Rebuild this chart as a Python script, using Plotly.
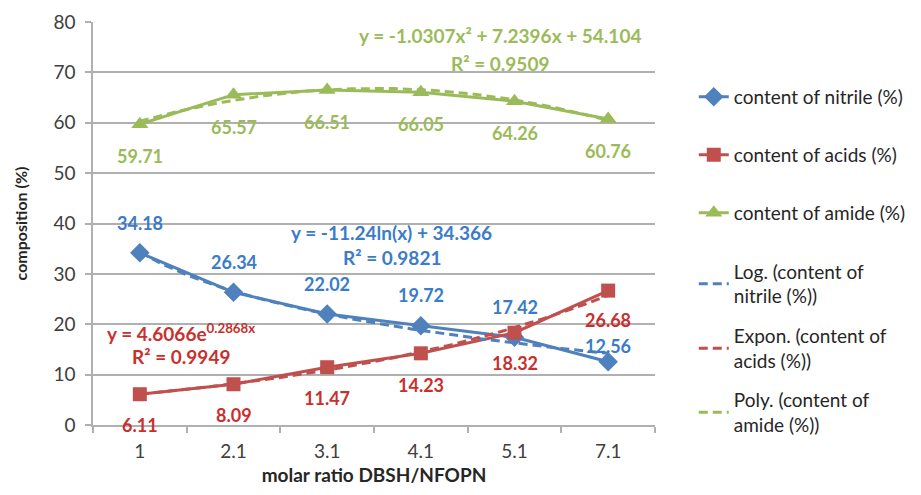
import numpy as np
import plotly.graph_objects as go

# ---- data ----
categories = ["1", "2.1", "3.1", "4.1", "5.1", "7.1"]
nitrile = [34.18, 26.34, 22.02, 19.72, 17.42, 12.56]
acids = [6.11, 8.09, 11.47, 14.23, 18.32, 26.68]
amide = [59.71, 65.57, 66.51, 66.05, 64.26, 60.76]

eq_nitrile = ["y = -11.24ln(x) + 34.366", "R² = 0.9821"]
eq_acids = ["y = 4.6066e<sup>0.2868x</sup>", "R² = 0.9949"]
eq_amide = ["y = -1.0307x² + 7.2396x + 54.104", "R² = 0.9509"]

# ---- styles ----
FONT = "Lato, Carlito, Calibri, sans-serif"
C_BLUE, C_RED, C_GREEN = "#4F81BD", "#C0504D", "#9BBB59"
T_BLUE, T_RED, T_GREEN = "#3A7CC8", "#C8302E", "#9BBB59"
GRID = "#B0B0B0"

idx = np.arange(1, len(categories) + 1)
xs = np.linspace(1, len(categories), 101)

# trendlines fitted from the data (Excel uses category index 1..n)
b_log, a_log = np.polyfit(np.log(idx), nitrile, 1)
log_fit = b_log * np.log(xs) + a_log
k_exp, lnA = np.polyfit(idx, np.log(acids), 1)
exp_fit = np.exp(lnA) * np.exp(k_exp * xs)
p2 = np.polyfit(idx, amide, 2)
poly_fit = np.polyval(p2, xs)

fig = go.Figure()
lw = 3
fig.add_trace(go.Scatter(x=idx, y=nitrile, mode="lines+markers", name="content of nitrile (%)",
                         line=dict(color=C_BLUE, width=lw),
                         marker=dict(symbol="diamond", size=15, color=C_BLUE), legend="legend"))
fig.add_trace(go.Scatter(x=idx, y=acids, mode="lines+markers", name="content of acids (%)",
                         line=dict(color=C_RED, width=lw),
                         marker=dict(symbol="square", size=14, color=C_RED), legend="legend2"))
fig.add_trace(go.Scatter(x=idx, y=amide, mode="lines+markers", name="content of amide (%)",
                         line=dict(color=C_GREEN, width=lw),
                         marker=dict(symbol="triangle-up", size=15, color=C_GREEN), legend="legend3"))
dash = "9px,5px"
fig.add_trace(go.Scatter(x=xs, y=log_fit, mode="lines", name="Log. (content of<br>nitrile (%))",
                         line=dict(color=C_BLUE, width=lw, dash=dash), legend="legend4"))
fig.add_trace(go.Scatter(x=xs, y=exp_fit, mode="lines", name="Expon. (content of<br>acids (%))",
                         line=dict(color=C_RED, width=lw, dash=dash), legend="legend5"))
fig.add_trace(go.Scatter(x=xs, y=poly_fit, mode="lines", name="Poly. (content of<br>amide (%))",
                         line=dict(color=C_GREEN, width=lw, dash=dash), legend="legend6"))

annotations = []
lab_font = dict(family=FONT, size=18)
n_shift = [30, 30, 30, 31, 30, 16]
a_shift = [-31, -31, -31, -32, -30, -29]
for i, v in enumerate(nitrile):
    annotations.append(dict(x=idx[i], y=v, text=f"<b>{v:.2f}</b>", showarrow=False,
                            yshift=n_shift[i], font=dict(lab_font, color=T_BLUE)))
for i, v in enumerate(acids):
    annotations.append(dict(x=idx[i], y=v, text=f"<b>{v:.2f}</b>", showarrow=False,
                            yshift=a_shift[i], font=dict(lab_font, color=T_RED)))
for i, v in enumerate(amide):
    annotations.append(dict(x=idx[i], y=v, text=f"<b>{v:.2f}</b>", showarrow=False,
                            yshift=-32, font=dict(lab_font, color=T_GREEN)))

eq_font = dict(family=FONT, size=19)
for (x, y), t, c in [((4.85, 77.4), eq_amide[0], T_GREEN), ((4.85, 71.8), eq_amide[1], T_GREEN),
                     ((3.69, 38.3), eq_nitrile[0], T_BLUE), ((3.69, 33.3), eq_nitrile[1], T_BLUE),
                     ((1.44, 18.45), eq_acids[0], T_RED), ((1.44, 13.5), eq_acids[1], T_RED)]:
    annotations.append(dict(x=x, y=y, text=f"<b>{t}</b>", showarrow=False,
                            font=dict(eq_font, color=c)))

leg_common = dict(x=1.069, xanchor="left", yanchor="middle", bgcolor="rgba(0,0,0,0)",
                  font=dict(family=FONT, size=19, color="#262626"), itemwidth=30)
legend_y = [0.814, 0.670, 0.526, 0.35, 0.19, 0.031]

# the page body adds an 8px offset, margins compensate so the plot area
# lands at x 93..655, y 22..425 in the window
fig.update_layout(
    width=921, height=495,
    margin=dict(l=85, r=274, t=14, b=78, autoexpand=False),
    paper_bgcolor="white", plot_bgcolor="white",
    font=dict(family=FONT, color="#404040"),
    showlegend=True,
    annotations=annotations,
    legend=dict(leg_common, y=legend_y[0]),
    legend2=dict(leg_common, y=legend_y[1]),
    legend3=dict(leg_common, y=legend_y[2]),
    legend4=dict(leg_common, y=legend_y[3]),
    legend5=dict(leg_common, y=legend_y[4]),
    legend6=dict(leg_common, y=legend_y[5]),
    xaxis=dict(range=[0.5, 6.5], tickvals=list(idx), ticktext=categories, ticks="",
               automargin=False,
               showgrid=False, zeroline=False, showline=True, linecolor=GRID, linewidth=1.5,
               tickfont=dict(family=FONT, size=19, color="#404040"), ticklabelstandoff=8,
               minor=dict(tickvals=list(np.arange(0.5, 7, 1.0)), ticks="outside", ticklen=6,
                          tickcolor=GRID, tickwidth=1.5, showgrid=False),
               title=dict(text="<b>molar ratio DBSH/NFOPN</b>", standoff=8,
                          font=dict(family=FONT, size=19, color="#262626"))),
    yaxis=dict(range=[0, 80], dtick=10, showgrid=True, gridcolor=GRID, gridwidth=1.5,
               automargin=False,
               zeroline=False, showline=True, linecolor=GRID, linewidth=1.5,
               ticks="outside", ticklen=6, tickcolor=GRID, tickwidth=1.5,
               tickfont=dict(family=FONT, size=19, color="#404040"), ticklabelstandoff=6,
               title=dict(text="<b>composition (%)</b>", standoff=22,
                          font=dict(family=FONT, size=16, color="#262626"))),
)

fig.write_html("out.html")
